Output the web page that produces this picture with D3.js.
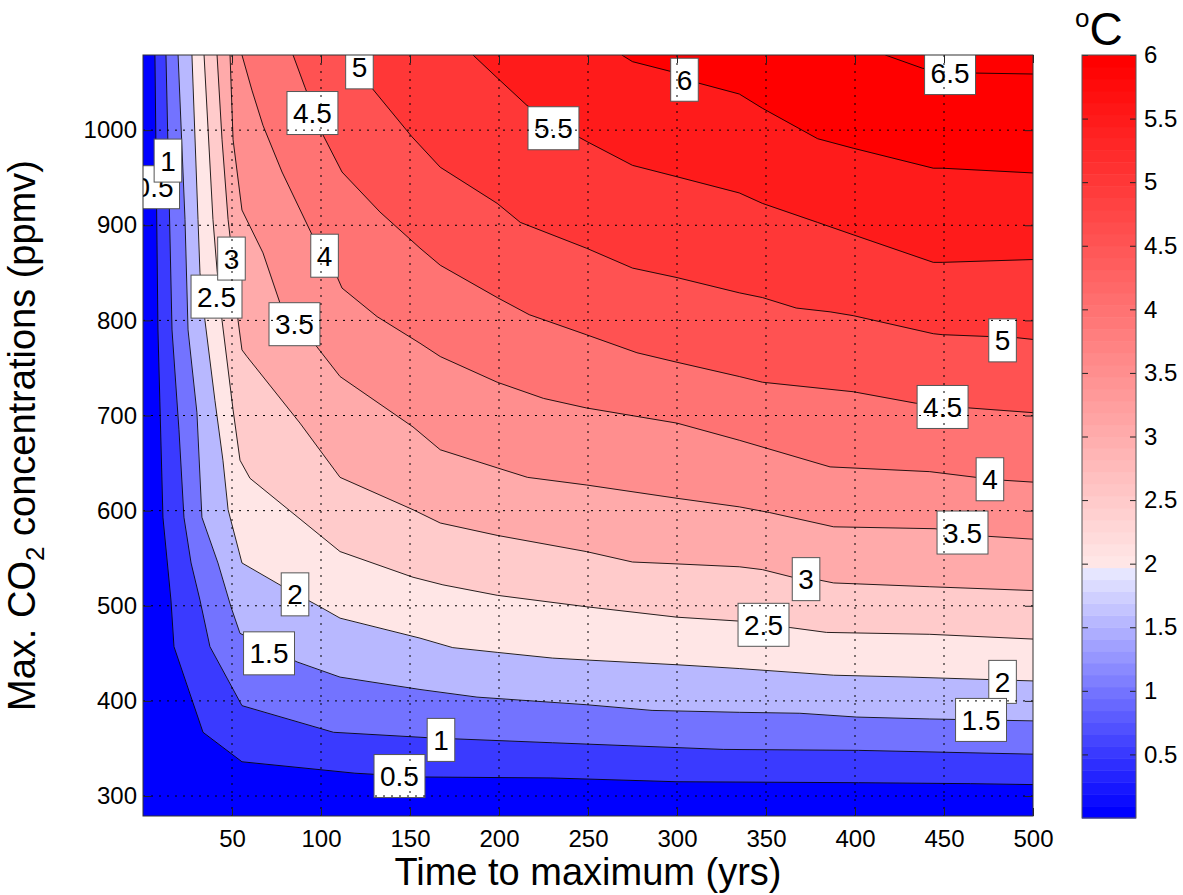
<!DOCTYPE html>
<html><head><meta charset="utf-8">
<script src="https://cdn.jsdelivr.net/npm/d3@7"></script>
<style>
body{margin:0;background:#fff;}
text{font-family:"Liberation Sans",Arial,Helvetica,sans-serif;fill:#000;}
</style>
</head><body>
<svg id="chart" width="1183" height="895"></svg>
<script>
// ---- data (years, ppmv) ----
const levels = [0.5, 1, 1.5, 2, 2.5, 3, 3.5, 4, 4.5, 5, 5.5, 6, 6.5];
const line05 = [[6.7,1079],[8.4,790],[11.2,593],[15.7,506],[17.4,457],[33.7,367],[55.6,336],[119,324],[156,320],[229,319],[300,315],[402,314],[465,313],[500,312]];
const line10 = [[12.9,1079],[16.3,790],[20.2,685],[23,593],[27,545],[32,506],[37.6,457],[55.6,395],[107,367],[163,361],[230,356],[326,349],[402,348],[500,344]];
const line15 = [[19.7,1079],[23.6,906],[25.3,790],[30.3,703],[33.1,593],[42.1,545],[49.4,499],[54.5,471],[86.5,441],[110.7,425],[155.6,412],[187.6,404],[249,396],[286,390],[335,388],[369,387],[401,383],[442,381],[500,379]];
const line20 = [[27.5,1079],[30.9,906],[32,850],[34.8,800],[40.4,716],[44.9,653],[47.8,601],[55.6,545],[78.7,520],[99.4,499],[110.7,487],[155.6,466],[174,456],[199,451],[230,445],[249,443],[300,438],[335,434],[388,427],[431,425],[500,421]];
const line25 = [[34.3,1079],[39.3,906],[41.6,853],[44.4,800],[50.6,706],[54.5,653],[60.1,634],[110.7,557],[151.7,530],[168.5,522],[199,511],[249,499],[300,488],[334,484],[364,477],[384,472],[442,470],[500,465]];
const line30 = [[41.6,1079],[44.4,990],[47.8,906],[48.9,888],[53.4,800],[55.6,769],[58.4,762],[88.2,692],[110.7,635],[151.7,601],[167,587],[199,574],[249,557],[275,546],[300,544],[335,541],[348,538],[365,530],[380,527],[388,524],[442,520],[500,516]];
const line35 = [[48.9,1079],[50.6,990],[55.6,916],[67.4,871],[77,818],[97.8,772],[110.7,741],[151.7,688],[167,664],[199,645],[216,635],[249,627],[300,613],[335,604],[352,598],[388,583],[445,581],[475,573],[500,570]];
const line40 = [[55.6,1079],[61.2,1042],[67.4,1005],[78.1,956],[95.5,888],[109,846],[111.8,834],[131.5,804],[155.6,776],[167,762],[199,735],[225,718],[249,708],[300,692],[335,674],[386,646],[442,641],[468,635],[483,632],[500,630]];
const line45 = [[84.3,1079],[91,1045],[101.1,995],[111.8,956],[133.1,914],[155.6,876],[167,858],[199,824],[217,806],[249,785],[277.5,766],[300,756],[335,741],[348,735],[399,725],[434,713],[464,708],[500,703]];
const line50 = [[116.3,1079],[128.7,1044],[151.1,993],[167,961],[199,923],[212,903],[249,876],[275,855],[300,845],[335,829],[348,824],[367,813],[386,809],[399,805],[444,786],[449,785],[476,783],[490,782],[500,780]];
const line55 = [[185.4,1079],[199,1055],[215.7,1026],[245.5,992],[249.4,988],[275,963],[300,951],[335,934],[348,923],[379,903],[399,890],[444,861],[449,861],[500,864]];
const line60 = [[269,1079],[275,1072],[298,1061],[311,1050],[335,1038],[348,1023],[379,991],[399,981],[444,960],[449,960],[500,955]];
const line65 = [[417,1079],[438,1065],[468,1060],[500,1059]];
const contourLines = [line05, line10, line15, line20, line25, line30, line35, line40, line45, line50, line55, line60, line65];

const labelLevels = [0.5, 1, 2.5, 3, 3.5, 4, 4.5, 5, 5.5, 6, 6.5, 5, 4.5, 4, 3.5, 3, 2.5, 2, 1.5, 2, 1.5, 1, 0.5];
const labelX = [6.2, 14.0, 41.3, 49.7, 85.1, 102.0, 95.2, 121.6, 230.6, 304.2, 453.4, 482.9, 449.2, 475.8, 460.4, 372.5, 348.6, 482.9, 470.8, 85.4, 70.8, 167.4, 144.1];
const labelY = [940, 968, 825, 865, 796, 868, 1018, 1066, 1002, 1053, 1060, 779, 709, 633, 577, 528, 480, 420, 380, 512, 450, 359, 321];

const xTicks = [50, 100, 150, 200, 250, 300, 350, 400, 450, 500];
const yTicks = [300, 400, 500, 600, 700, 800, 900, 1000];
const cbTicks = [0.5, 1, 1.5, 2, 2.5, 3, 3.5, 4, 4.5, 5, 5.5, 6];
const xDomain = [0, 500];
const yDomain = [279, 1079];
const cbDomain = [0, 6];

// ---- layout ----
const svg = d3.select("#chart");
const P = {left: 143, right: 1033, top: 55, bottom: 816};
const CB = {left: 1082, right: 1136, top: 55, bottom: 818};
const x = d3.scaleLinear().domain(xDomain).range([P.left, P.right]);
const y = d3.scaleLinear().domain(yDomain).range([P.bottom, P.top]);
const cy = d3.scaleLinear().domain(cbDomain).range([CB.bottom, CB.top]);

// 64-entry blue-white-red colormap
const NC = 64;
function cmapIndex(k) {
  if (k <= 20) { const c = Math.round(k * 11.5); return d3.rgb(c, c, 255).toString(); }
  const j = k - 21; const g = Math.round(230 * (1 - j / 42));
  return d3.rgb(255, g, g).toString();
}
function cmap(v) {
  let k = Math.floor((v - cbDomain[0]) / (cbDomain[1] - cbDomain[0]) * NC + 1e-9);
  k = Math.max(0, Math.min(NC - 1, k));
  return cmapIndex(k);
}

svg.append("defs").append("clipPath").attr("id", "plotclip")
  .append("rect").attr("x", P.left).attr("y", P.top)
  .attr("width", P.right - P.left).attr("height", P.bottom - P.top);

const plot = svg.append("g").attr("clip-path", "url(#plotclip)");
plot.append("rect").attr("x", x(xDomain[0])).attr("y", y(yDomain[1]))
  .attr("width", x(xDomain[1]) - x(xDomain[0])).attr("height", y(yDomain[0]) - y(yDomain[1]))
  .attr("fill", cmap(0));

const lineGen = d3.line().x(d => x(d[0])).y(d => y(d[1]));
levels.forEach((L, i) => {
  const pts = contourLines[i].concat([[xDomain[1], yDomain[1]]]);
  plot.append("path").attr("d", lineGen(pts) + "Z").attr("fill", cmap(L)).attr("stroke", cmap(L)).attr("stroke-width", 0.5);
});
levels.forEach((L, i) => {
  plot.append("path").attr("d", lineGen(contourLines[i])).attr("fill", "none")
    .attr("stroke", "#000").attr("stroke-width", 1).attr("stroke-opacity", 0.85);
});

// contour labels
labelLevels.forEach((L, i) => {
  const g = plot.append("g");
  const cx = x(labelX[i]), cyy = y(labelY[i]);
  const r = g.append("rect");
  const t = g.append("text").attr("x", cx).attr("y", cyy).attr("dy", "0.36em")
    .attr("text-anchor", "middle").attr("font-size", 28).text(String(L));
  const w = t.node().getComputedTextLength() + 12;
  r.attr("x", cx - w / 2).attr("y", cyy - 21.5).attr("width", w).attr("height", 43)
    .attr("fill", "#fff").attr("stroke", "#555").attr("stroke-width", 1);
});

// grid (drawn on top)
const grid = svg.append("g").attr("stroke", "#000").attr("stroke-width", 1).attr("stroke-dasharray", "2,6");
xTicks.filter(v => v < xDomain[1]).forEach(v => {
  grid.append("line").attr("x1", x(v)).attr("x2", x(v)).attr("y1", P.top).attr("y2", P.bottom);
});
yTicks.forEach(v => {
  grid.append("line").attr("x1", P.left).attr("x2", P.right).attr("y1", y(v)).attr("y2", y(v));
});

// axes
function styleAxis(g) {
  g.select(".domain").remove();
  g.selectAll(".tick line").attr("stroke", "#222");
  g.selectAll(".tick text").attr("font-size", 24).attr("font-family", "Liberation Sans, Arial, sans-serif").attr("fill", "#000");
}
svg.append("g").attr("transform", `translate(0,${P.bottom})`)
  .call(d3.axisBottom(x).tickValues(xTicks).tickSizeInner(-8).tickSizeOuter(0).tickPadding(14).tickFormat(d => String(d)))
  .call(styleAxis);
svg.append("g").attr("transform", `translate(0,${P.top})`)
  .call(d3.axisTop(x).tickValues(xTicks).tickSizeInner(-8).tickSizeOuter(0).tickFormat(""))
  .call(styleAxis);
svg.append("g").attr("transform", `translate(${P.left},0)`)
  .call(d3.axisLeft(y).tickValues(yTicks).tickSizeInner(-8).tickSizeOuter(0).tickPadding(6).tickFormat(d => String(d)))
  .call(styleAxis);
svg.append("g").attr("transform", `translate(${P.right},0)`)
  .call(d3.axisRight(y).tickValues(yTicks).tickSizeInner(-8).tickSizeOuter(0).tickFormat(""))
  .call(styleAxis);

svg.append("rect").attr("x", P.left).attr("y", P.top).attr("width", P.right - P.left).attr("height", P.bottom - P.top)
  .attr("fill", "none").attr("stroke", "#333").attr("stroke-width", 1);

// axis titles
svg.append("text").attr("x", (P.left + P.right) / 2).attr("y", 885).attr("text-anchor", "middle")
  .attr("font-size", 38).text("Time to maximum (yrs)");
const yl = svg.append("text").attr("transform", `translate(35,${(P.top + P.bottom) / 2}) rotate(-90)`)
  .attr("text-anchor", "middle").attr("font-size", 38);
yl.append("tspan").text("Max. CO");
yl.append("tspan").attr("font-size", 26).attr("dy", 9).text("2");
yl.append("tspan").attr("dy", -9).text(" concentrations (ppmv)");

// colorbar
const cbG = svg.append("g");
d3.range(NC).forEach(k => {
  const v0 = cbDomain[0] + k * (cbDomain[1] - cbDomain[0]) / NC;
  const v1 = cbDomain[0] + (k + 1) * (cbDomain[1] - cbDomain[0]) / NC;
  cbG.append("rect").attr("x", CB.left).attr("width", CB.right - CB.left)
    .attr("y", cy(v1)).attr("height", cy(v0) - cy(v1) + 0.5).attr("fill", cmapIndex(k));
});
svg.append("g").attr("transform", `translate(${CB.right},0)`)
  .call(d3.axisRight(cy).tickValues(cbTicks).tickSizeInner(-6).tickSizeOuter(0).tickPadding(8).tickFormat(d => String(d)))
  .call(styleAxis);
svg.append("g").attr("transform", `translate(${CB.left},0)`)
  .call(d3.axisLeft(cy).tickValues(cbTicks).tickSizeInner(-6).tickSizeOuter(0).tickFormat(""))
  .call(styleAxis);
svg.append("rect").attr("x", CB.left).attr("y", CB.top).attr("width", CB.right - CB.left).attr("height", CB.bottom - CB.top)
  .attr("fill", "none").attr("stroke", "#555").attr("stroke-width", 1);

const ct = svg.append("text").attr("x", 1075).attr("y", 45);
ct.append("tspan").attr("font-size", 26).attr("dy", -18).text("o");
ct.append("tspan").attr("font-size", 46).attr("dy", 18).text("C");
</script>
</body></html>
